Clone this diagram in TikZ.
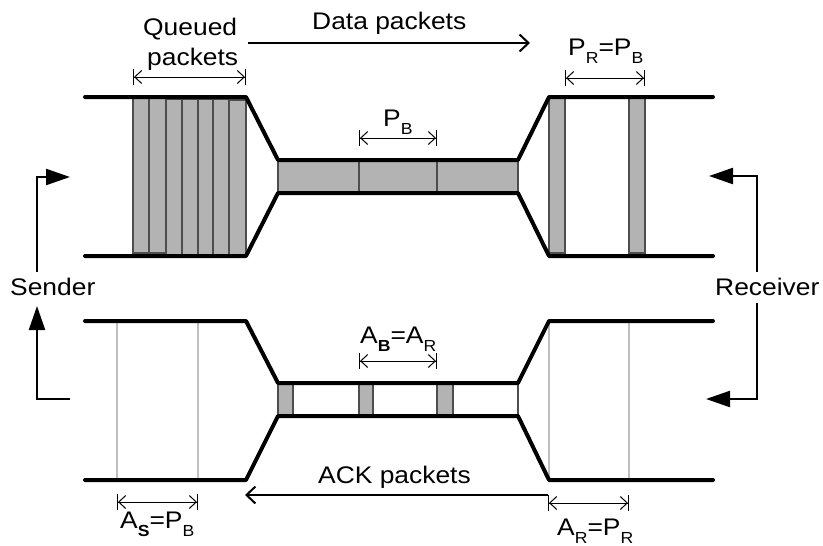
\documentclass[tikz,border=0pt]{standalone}
\usepackage{fontspec}
\setmainfont{Liberation Sans}[FakeStretch=1.1]
\usetikzlibrary{arrows.meta}
\definecolor{pktgray}{HTML}{B3B3B3}
\definecolor{pktedge}{HTML}{4D4D4D}
\definecolor{ghostgray}{HTML}{BFBFBF}
% lowered subscript in the label font
\newcommand\lsub[1]{\raisebox{-8pt}{\fontsize{16}{16}\selectfont #1}}
\tikzset{
  chan/.style={line width=4pt, line cap=round, line join=round},
  neck/.style={line width=3pt},
  pkt/.style={fill=pktgray, draw=pktedge, line width=1.1pt},
  ghost/.style={draw=ghostgray, line width=2pt},
  dimline/.style={line width=1pt,
    {Bar[width=16pt]Straight Barb[length=7pt,width=13pt]}-{Straight Barb[length=7pt,width=13pt]Bar[width=16pt]}},
  flow/.style={line width=2pt, -{Straight Barb[length=9pt,width=17pt]}},
  turn/.style={line width=2.3pt, -{Triangle[length=24pt,width=16pt]}},
  lbl/.style={inner sep=0pt, anchor=base west, font=\fontsize{24}{29}\selectfont},
}
\begin{document}
\begin{tikzpicture}[x=1pt,y=-1pt]
\useasboundingbox (0,0) rectangle (823,546);

% ---------- data path (top) ----------
% queued packets at the sender
\foreach \a/\b/\t/\u in {133/149/97/253,149/166/97/253,166/182/99/256,182/198/99/256,
                         198/213/99/256,213/229/99/256,229/246/100/256}
  \draw[pkt] (\a,\t) rectangle (\b,\u);
% packets in the bottleneck
\draw[pkt] (278,160) rectangle (518,193);
\draw[pktedge, line width=1.1pt] (359,160) -- (359,193) (437,160) -- (437,193);
% packets at the receiver
\draw[pkt] (549,97) rectangle (565,253);
\draw[pkt] (629,97) rectangle (645,253);
% pipe outline
\draw[chan] (85,97) -- (246,97) -- (278,160) -- (518,160) -- (549,97) -- (713,97);
\draw[chan] (85,256) -- (246,256) -- (278,193) -- (518,193) -- (549,256) -- (713,256);

% ---------- ACK path (bottom) ----------
\draw[ghost] (117,321) -- (117,480) (198,321) -- (198,480);
\draw[ghost] (549,321) -- (549,480) (629,321) -- (629,480);
\draw[pktedge, line width=1.1pt] (518,383) -- (518,416);
\draw[pkt] (278,384) rectangle (293,415);
\draw[pkt] (359,384) rectangle (373,415);
\draw[pkt] (437,384) rectangle (453,415);
\draw[chan] (85,321) -- (246,321) -- (278,383) -- (518,383) -- (549,321) -- (713,321);
\draw[chan] (85,480) -- (246,480) -- (278,416) -- (518,416) -- (549,480) -- (713,480);

% ---------- labels ----------
\node[lbl] (queued) at (143,35) {Queued};
\node[lbl] (queuedb) at (147,65) {packets};
\node[lbl] (data) at (312,30) {Data packets};
\node[lbl] (ack) at (318,483) {ACK packets};
\node[lbl] (pb) at (383,126) {P\lsub{B}};
\node[lbl] (prpb) at (568,55) {P\lsub{R}=P\lsub{B}};
\node[lbl] (abar) at (360,343) {A\lsub{\textbf{B}}=A\lsub{R}};
\node[lbl] (aspb) at (120,528) {A\lsub{\textbf{S}}=P\lsub{B}};
\node[lbl] (arpr) at (557,535) {A\lsub{R}=P\lsub{R}};
\node[lbl] (sender) at (10,295) {Sender};
\node[lbl] (receiver) at (715,295) {Receiver};

% ---------- spacing marks ----------
\coordinate (q1) at (133,77);  \coordinate (q2) at (246,77);
\coordinate (b1) at (359,138); \coordinate (b2) at (437,138);
\coordinate (r1) at (565,78);  \coordinate (r2) at (645,78);
\coordinate (k1) at (359,361); \coordinate (k2) at (437,361);
\coordinate (s1) at (117,502); \coordinate (s2) at (198,502);
\coordinate (t1) at (548,503); \coordinate (t2) at (629,503);
\foreach \p/\q in {q1/q2,b1/b2,r1/r2,k1/k2,s1/s2,t1/t2}
  \draw[dimline] (\p) -- (\q);

% ---------- direction of flow ----------
\coordinate (d1) at (248,43);  \coordinate (d2) at (530,43);
\coordinate (a1) at (548,495); \coordinate (a2) at (245,495);
\draw[flow] (d1) -- (d2);
\draw[flow] (a1) -- (a2);

% ---------- endpoints ----------
\coordinate (sa) at (37,272);  \coordinate (sb) at (70,177);
\coordinate (sc) at (70,399);  \coordinate (sd) at (37,306);
\coordinate (ra) at (757,272); \coordinate (rb) at (709,176);
\coordinate (rc) at (757,303); \coordinate (rd) at (706,399);
\draw[turn] (sa) |- (sb);
\draw[turn] (sc) -| (sd);
\draw[turn] (ra) |- (rb);
\draw[turn] (rc) |- (rd);
\end{tikzpicture}
\end{document}
